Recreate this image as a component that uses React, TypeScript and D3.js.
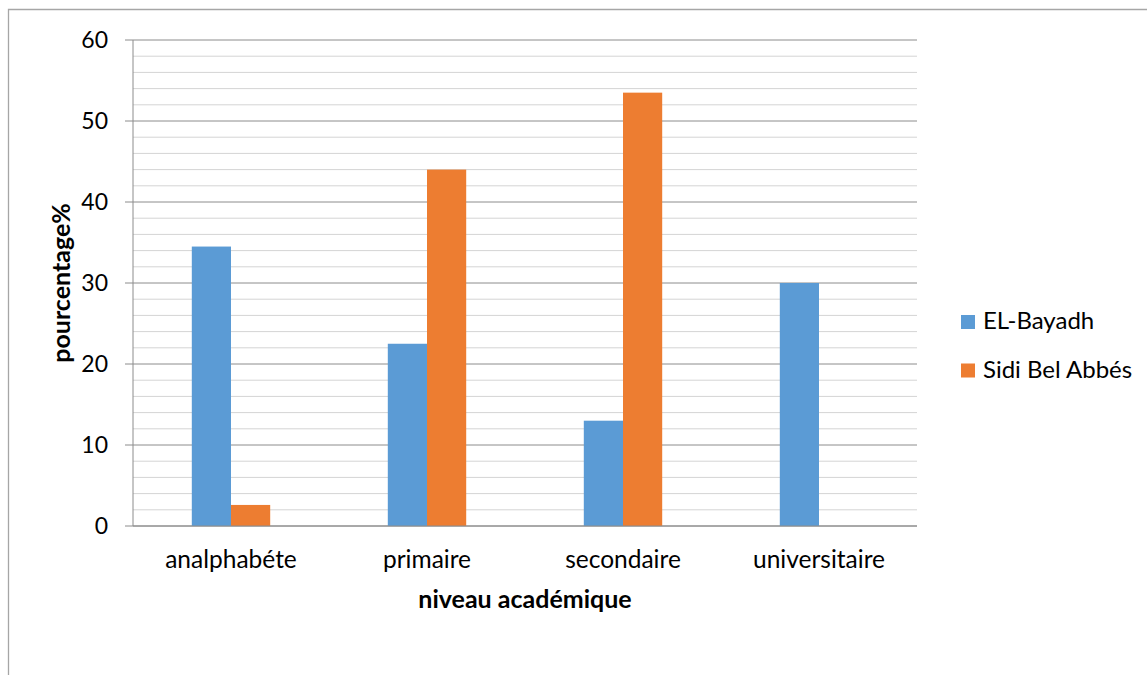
import React from "react";
import * as d3 from "d3";

const categories = ["analphabéte", "primaire", "secondaire", "universitaire"];
const seriesNames = ["EL-Bayadh", "Sidi Bel Abbés"];
const elBayadh = [34.5, 22.5, 13, 30];
const sidiBelAbbes = [2.6, 44, 53.5, 0];
const majorTicks = [0, 10, 20, 30, 40, 50, 60];
const minorTicks = d3.range(0, 61, 2);
const colors = ["#5B9BD5", "#ED7D31"];

export default function App() {
  const W = 1147, H = 675;
  const left = 133, right = 917, top = 40, bottom = 526;
  const font = "Lato, Carlito, 'Open Sans', sans-serif";
  const y = d3.scaleLinear().domain([0, 60]).range([bottom, top]);
  const x0 = d3.scaleBand().domain(categories).range([left, right]).paddingInner(0).paddingOuter(0);
  const bw = x0.bandwidth() / 5;
  const series = [elBayadh, sidiBelAbbes];
  return (
    <svg width={W} height={H} style={{ display: "block", position: "fixed", left: 0, top: 0 }}>
      <rect x={0} y={0} width={W} height={H} fill="#fff" />
      <path d={`M8.5,${H + 10} V9.5 H${W + 10}`} fill="none" stroke="#a6a6a6" strokeWidth={1.3} />
      {minorTicks.filter(t => t % 10 !== 0).map(t => (
        <line key={"m" + t} x1={left} x2={right} y1={y(t)} y2={y(t)} stroke="#d4d4d4" strokeWidth={1} />
      ))}
      {majorTicks.map(t => (
        <g key={"M" + t}>
          <line x1={left - 8} x2={right} y1={y(t)} y2={y(t)} stroke="#8c8c8c" strokeWidth={1} />
          <text x={108} y={y(t)} dy="0.36em" textAnchor="end" fontFamily={font} fontSize={23} fill="#000">{t}</text>
        </g>
      ))}
      <line x1={left} x2={left} y1={top} y2={bottom} stroke="#8c8c8c" strokeWidth={1} />
      {categories.map((c, i) => {
        const cx = x0(c)! + x0.bandwidth() / 2;
        return (
          <g key={c}>
            {series.map((s, j) => s[i] > 0 ? (
              <rect key={j} x={cx - bw + j * bw} y={y(s[i])} width={bw} height={y(0) - y(s[i])} fill={colors[j]} />
            ) : null)}
            <text x={cx} y={568} textAnchor="middle" fontFamily={font} fontSize={24.5} fill="#000">{c}</text>
          </g>
        );
      })}
      <line x1={left} x2={right} y1={y(0)} y2={y(0)} stroke="#8c8c8c" strokeWidth={1} />
      <text x={525} y={608} textAnchor="middle" fontFamily={font} fontSize={25} fontWeight="bold" fill="#000">niveau académique</text>
      <text transform={`translate(70,${(top + bottom) / 2}) rotate(-90)`} textAnchor="middle" fontFamily={font} fontSize={25} fontWeight="bold" fill="#000">pourcentage%</text>
      {seriesNames.map((n, j) => (
        <g key={n} transform={`translate(961,${315 + j * 48.5})`}>
          <rect x={0} y={0} width={14} height={14} fill={colors[j]} />
          <text x={22} y={14} fontFamily={font} fontSize={24} fill="#000">{n}</text>
        </g>
      ))}
    </svg>
  );
}
